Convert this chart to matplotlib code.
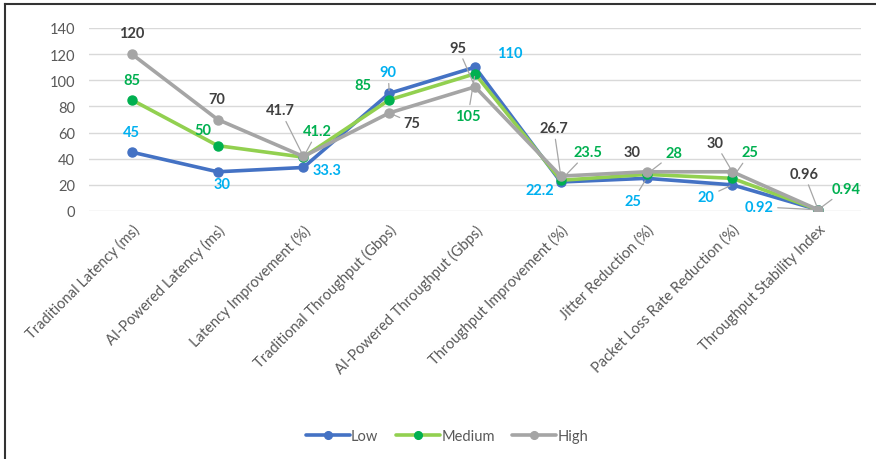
import matplotlib
matplotlib.use("Agg")
import matplotlib.pyplot as plt
from matplotlib.lines import Line2D

plt.rcParams['font.family'] = ['Lato', 'DejaVu Sans']

categories = ['Traditional Latency (ms)', 'AI-Powered Latency (ms)', 'Latency Improvement (%)',
              'Traditional Throughput (Gbps)', 'AI-Powered Throughput (Gbps)',
              'Throughput Improvement (%)', 'Jitter Reduction (%)',
              'Packet Loss Rate Reduction (%)', 'Throughput Stability Index']
low = [45, 30, 33.3, 90, 110, 22.2, 25, 20, 0.92]
medium = [85, 50, 41.2, 85, 105, 23.5, 28, 25, 0.94]
high = [120, 70, 41.7, 75, 95, 26.7, 30, 30, 0.96]
yticks = [0, 20, 40, 60, 80, 100, 120, 140]

# label offsets in pixels (dx, dy, leader line?)
low_off = [(0, 20, 0), (4, -12, 0), (24, -3, 0), (-1, 21, 1), (35, 14, 0),
           (-21, -8, 0), (-14, -23, 1), (-26, -12, 1), (-59, 3, 1)]
med_off = [(0, 20, 0), (-15, 16, 0), (14, 26, 1), (-26, 15, 0), (-7, -42, 1),
           (27, 28, 1), (27, 21, 1), (18, 26, 1), (28, 21, 1)]
high_off = [(0, 21, 0), (-1, 21, 0), (-23, 46, 1), (23, -10, 1), (-17, 39, 1),
            (-7, 48, 1), (-14, 20, 0), (-17, 29, 1), (-14, 36, 1)]

fig = plt.figure(figsize=(8.76, 4.6), dpi=100)
ax = fig.add_axes([89/876, 1-212/460, (861-89)/876, (212-29)/460])

x = list(range(len(categories)))
series = [
    ('Low', low, '#4472C4', '#4472C4', '#00B0F0', low_off),
    ('Medium', medium, '#92D050', '#00B050', '#00B050', med_off),
    ('High', high, '#A5A5A5', '#A5A5A5', '#404040', high_off),
]
for name, vals, lc, mc, tc, offs in series:
    ax.plot(x, vals, color=lc, lw=2.6, marker='o', ms=6.5, mfc=mc, mec=mc,
            label=name, zorder=3, solid_capstyle='round')
for name, vals, lc, mc, tc, offs in series:
    for xi, v, (dx, dy, lead) in zip(x, vals, offs):
        ap = None
        if lead:
            ap = dict(arrowstyle='-', color='#A6A6A6', lw=0.9, shrinkA=1, shrinkB=2)
        ax.annotate(f'{v:g}', xy=(xi, v), xytext=(dx*0.72, dy*0.72),
                    textcoords='offset points', ha='center', va='center',
                    fontsize=10.5, fontweight='bold', color=tc,
                    arrowprops=ap, zorder=5)

ax.set_xlim(-0.5, len(categories)-0.5)
ax.set_ylim(0, 140)
ax.set_yticks(yticks)
ax.set_xticks(x)
ax.set_xticklabels(categories, rotation=45, ha='right', rotation_mode='anchor')
ax.tick_params(axis='both', length=0, labelsize=10.5, colors='#595959', pad=10)
ax.tick_params(axis='x', pad=8)
ax.grid(axis='y', color='#D9D9D9', lw=1)
ax.set_axisbelow(True)
for s in ax.spines.values():
    s.set_visible(False)

leg = fig.legend(loc='center', bbox_to_anchor=(447/876, 1-437/460), ncol=3,
                 frameon=False, fontsize=10.5, handlelength=3.0, handletextpad=0.1,
                 columnspacing=1.2, markerscale=0.85)
for t in leg.get_texts():
    t.set_color('#595959')

fig.add_artist(Line2D([5/876, 5/876], [0, 1-5/460], color='#333333', lw=1.5))
fig.add_artist(Line2D([5/876, 1], [1-5/460, 1-5/460], color='#333333', lw=1.5))

fig.savefig('out.png', dpi=100)
